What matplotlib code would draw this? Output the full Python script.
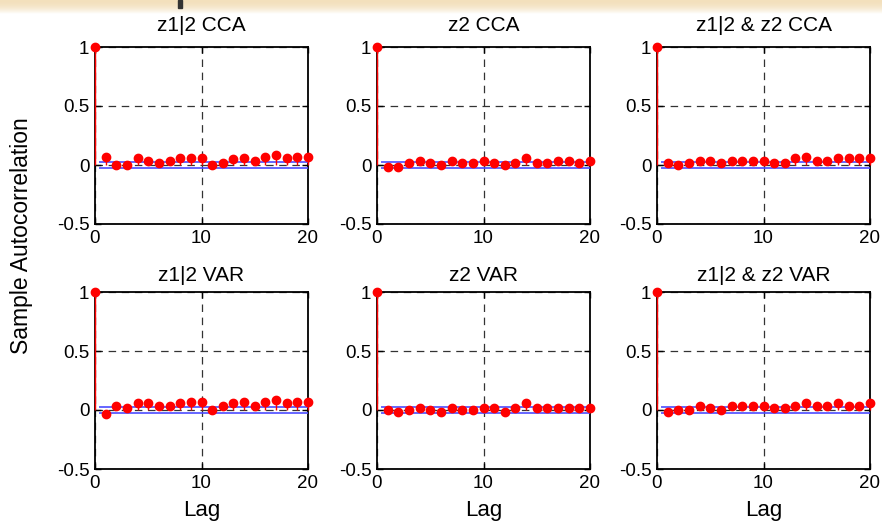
import matplotlib.pyplot as plt
import numpy as np
from matplotlib.patches import Rectangle

plt.rcParams['font.family'] = ['Liberation Sans', 'DejaVu Sans']
plt.rcParams['axes.unicode_minus'] = False

# Sample autocorrelation values, lags 0..20
lags = list(range(21))
titles = ['z1|2 CCA', 'z2 CCA', 'z1|2 & z2 CCA',
          'z1|2 VAR', 'z2 VAR', 'z1|2 & z2 VAR']

acf_z12_cca = [1, 0.07, 0.0, 0.0, 0.056, 0.037, 0.017, 0.037, 0.056, 0.056, 0.056,
               0.0, 0.017, 0.05, 0.056, 0.037, 0.07, 0.085, 0.056, 0.07, 0.07]
acf_z2_cca = [1, -0.014, -0.014, 0.017, 0.037, 0.017, 0.0, 0.037, 0.017, 0.017, 0.037,
              0.017, 0.0, 0.017, 0.056, 0.017, 0.017, 0.037, 0.037, 0.017, 0.037]
acf_both_cca = [1, 0.017, 0.0, 0.017, 0.037, 0.037, 0.017, 0.037, 0.037, 0.037, 0.037,
                0.017, 0.017, 0.056, 0.07, 0.037, 0.037, 0.056, 0.056, 0.056, 0.056]
acf_z12_var = [1, -0.034, 0.037, 0.02, 0.056, 0.056, 0.037, 0.037, 0.056, 0.07, 0.07,
               0.0, 0.037, 0.056, 0.07, 0.037, 0.07, 0.085, 0.056, 0.07, 0.07]
acf_z2_var = [1, 0.0, -0.017, 0.0, 0.02, 0.0, -0.017, 0.02, 0.0, 0.0, 0.02,
              0.02, -0.017, 0.02, 0.056, 0.02, 0.02, 0.02, 0.02, 0.02, 0.02]
acf_both_var = [1, -0.017, 0.0, 0.0, 0.037, 0.02, 0.0, 0.037, 0.037, 0.037, 0.037,
                0.02, 0.02, 0.037, 0.056, 0.037, 0.037, 0.056, 0.037, 0.037, 0.056]

all_acf = [acf_z12_cca, acf_z2_cca, acf_both_cca, acf_z12_var, acf_z2_var, acf_both_var]
bound = 0.025

fig = plt.figure(figsize=(8.82, 5.24), dpi=100)

# parchment strip at the top
band = fig.add_axes([0, 1 - 14 / 524, 1, 14 / 524], zorder=-1)
grad = np.linspace(0, 1, 50)[:, None]
beige = np.array([243, 224, 188]) / 255
img = beige[None, None, :] * (1 - grad[:, :, None] ** 2) + grad[:, :, None] ** 2
img = np.clip(img, 0, 1)
img = np.repeat(img, 10, axis=1)
band.imshow(img, aspect='auto', extent=[0, 1, 0, 1])
band.axis('off')
fig.patches.append(Rectangle((178 / 882, 1 - 8 / 524), 4 / 882, 8 / 524,
                             transform=fig.transFigure, color='#333333', zorder=5))

lefts = [95 / 882, 377 / 882, 657 / 882]
bottoms = [1 - 224 / 524, 1 - 469 / 524]
w = 213 / 882
h = 177 / 524

for i, vals in enumerate(all_acf):
    row, col = divmod(i, 3)
    ax = fig.add_axes([lefts[col], bottoms[row], w, h])
    ml, sl, bl = ax.stem(lags, vals, linefmt='r-', markerfmt='ro', basefmt=' ')
    plt.setp(sl, linewidth=1.0, clip_on=False, zorder=4)
    plt.setp(ml, markersize=6, clip_on=False, zorder=5)
    ax.plot([0.5, 20], [bound, bound], color='#4a4aff', lw=1.4, alpha=0.85, zorder=3)
    ax.plot([0.5, 20], [-bound, -bound], color='#4a4aff', lw=1.4, alpha=0.85, zorder=3)
    ax.set_xlim(0, 20)
    ax.set_ylim(-0.5, 1)
    ax.set_xticks([0, 10, 20])
    ax.set_yticks([-0.5, 0, 0.5, 1])
    ax.set_yticklabels(['-0.5', '0', '0.5', '1'])
    ax.grid(True, linestyle=(0, (6, 4.5)), color='0.2', lw=0.9)
    ax.tick_params(direction='in', length=4, width=1, top=True, right=True,
                   labelsize=13.5, pad=4)
    for s in ax.spines.values():
        s.set_linewidth(1.3)
    ax.set_title(titles[i], fontsize=15, pad=11.5 if row == 0 else 8)
    if row == 1:
        ax.set_xlabel('Lag', fontsize=16, labelpad=6)

fig.text(22 / 882, 1 - 236 / 524, 'Sample Autocorrelation', rotation=90,
         ha='center', va='center', fontsize=16.5)

fig.savefig('out.png', dpi=100)
